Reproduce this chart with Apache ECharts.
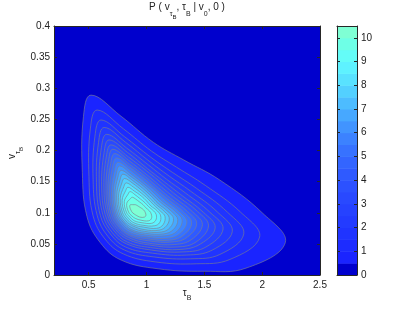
<!DOCTYPE html>
<html><head><meta charset="utf-8">
<script src="https://cdn.jsdelivr.net/npm/echarts@6/dist/echarts.min.js"></script>
<style>html,body{margin:0;padding:0;background:#fff}#c{width:415px;height:310px}</style>
</head><body><div id="c"></div>
<script>
// contour levels of P
const levels = [0.5,1,1.5,2,2.5,3,3.5,4,4.5,5,5.5,6,6.5,7,7.5,8,8.5,9,9.5,10];
const colorbarMax = 10.5;
// contour crossings read along 15 rays around the peak; one row per ray, one column per level
const rayTau = [
 [2.000,1.813,1.699,1.614,1.547,1.490,1.442,1.396,1.355,1.318,1.283,1.250,1.218,1.185,1.155,1.124,1.093,1.061,1.025,0.982],
 [2.200,1.978,1.841,1.742,1.662,1.594,1.536,1.483,1.434,1.390,1.349,1.308,1.270,1.233,1.196,1.160,1.122,1.084,1.041,0.990],
 [1.860,1.721,1.634,1.568,1.514,1.468,1.428,1.389,1.355,1.322,1.292,1.262,1.232,1.203,1.173,1.144,1.113,1.080,1.043,0.995],
 [1.500,1.429,1.382,1.346,1.316,1.290,1.266,1.244,1.222,1.203,1.184,1.164,1.146,1.127,1.108,1.088,1.067,1.043,1.017,0.982],
 [1.100,1.078,1.064,1.053,1.044,1.036,1.029,1.022,1.015,1.009,1.004,0.998,0.992,0.986,0.980,0.974,0.968,0.961,0.953,0.942],
 [0.780,0.798,0.810,0.819,0.827,0.833,0.839,0.845,0.850,0.855,0.860,0.865,0.870,0.875,0.880,0.885,0.890,0.896,0.902,0.911],
 [0.600,0.640,0.666,0.687,0.704,0.719,0.733,0.745,0.757,0.768,0.779,0.790,0.801,0.811,0.822,0.834,0.845,0.859,0.873,0.893],
 [0.485,0.538,0.573,0.600,0.622,0.642,0.660,0.676,0.692,0.707,0.721,0.735,0.749,0.763,0.778,0.793,0.809,0.826,0.845,0.871],
 [0.445,0.502,0.538,0.567,0.591,0.612,0.631,0.649,0.665,0.681,0.697,0.712,0.727,0.742,0.757,0.773,0.789,0.808,0.829,0.856],
 [0.455,0.515,0.554,0.585,0.610,0.633,0.653,0.672,0.690,0.706,0.722,0.739,0.754,0.771,0.787,0.804,0.821,0.841,0.863,0.893],
 [0.520,0.573,0.607,0.634,0.656,0.676,0.693,0.709,0.725,0.740,0.754,0.768,0.782,0.796,0.810,0.825,0.840,0.858,0.877,0.903],
 [0.780,0.799,0.811,0.820,0.828,0.835,0.841,0.847,0.853,0.858,0.863,0.868,0.873,0.878,0.883,0.888,0.893,0.900,0.906,0.916],
 [1.060,1.043,1.031,1.022,1.015,1.008,1.003,0.997,0.992,0.987,0.982,0.978,0.973,0.968,0.964,0.959,0.954,0.948,0.942,0.933],
 [1.320,1.261,1.223,1.195,1.172,1.152,1.135,1.119,1.104,1.090,1.077,1.064,1.052,1.039,1.026,1.014,1.000,0.987,0.970,0.950],
 [1.630,1.508,1.434,1.379,1.335,1.297,1.266,1.237,1.210,1.185,1.163,1.141,1.120,1.099,1.079,1.060,1.038,1.017,0.994,0.966]
];
const rayV = [
 [0.100,0.101,0.101,0.101,0.101,0.101,0.102,0.102,0.102,0.102,0.102,0.102,0.102,0.102,0.102,0.102,0.103,0.103,0.103,0.103],
 [0.052,0.061,0.066,0.070,0.074,0.076,0.079,0.081,0.083,0.084,0.086,0.088,0.089,0.091,0.092,0.094,0.095,0.097,0.098,0.100],
 [0.011,0.025,0.033,0.040,0.045,0.050,0.053,0.057,0.061,0.064,0.067,0.070,0.073,0.076,0.079,0.081,0.084,0.088,0.091,0.096],
 [0.006,0.018,0.026,0.032,0.037,0.041,0.045,0.049,0.053,0.056,0.059,0.063,0.066,0.069,0.072,0.075,0.079,0.083,0.087,0.093],
 [0.010,0.021,0.029,0.035,0.040,0.044,0.048,0.051,0.055,0.058,0.061,0.064,0.067,0.070,0.073,0.077,0.080,0.084,0.088,0.093],
 [0.024,0.034,0.040,0.045,0.050,0.053,0.057,0.060,0.063,0.065,0.068,0.071,0.073,0.076,0.079,0.081,0.084,0.087,0.091,0.096],
 [0.052,0.058,0.062,0.066,0.068,0.071,0.073,0.075,0.077,0.078,0.080,0.082,0.084,0.085,0.087,0.089,0.091,0.093,0.095,0.098],
 [0.094,0.095,0.096,0.096,0.097,0.097,0.098,0.098,0.098,0.099,0.099,0.099,0.099,0.100,0.100,0.100,0.101,0.101,0.101,0.102],
 [0.165,0.158,0.153,0.149,0.146,0.143,0.141,0.139,0.136,0.134,0.132,0.130,0.129,0.127,0.125,0.123,0.120,0.118,0.115,0.112],
 [0.255,0.236,0.223,0.213,0.205,0.197,0.191,0.185,0.179,0.174,0.168,0.163,0.158,0.153,0.148,0.142,0.136,0.130,0.123,0.113],
 [0.289,0.265,0.249,0.237,0.226,0.217,0.209,0.202,0.195,0.188,0.181,0.175,0.168,0.162,0.155,0.148,0.141,0.134,0.125,0.113],
 [0.255,0.235,0.222,0.213,0.204,0.197,0.190,0.184,0.178,0.173,0.168,0.162,0.157,0.152,0.147,0.141,0.135,0.129,0.122,0.112],
 [0.213,0.199,0.190,0.183,0.177,0.171,0.167,0.162,0.158,0.154,0.150,0.146,0.143,0.139,0.135,0.131,0.127,0.122,0.117,0.110],
 [0.185,0.173,0.165,0.159,0.154,0.150,0.147,0.143,0.140,0.137,0.135,0.132,0.129,0.127,0.124,0.122,0.119,0.116,0.113,0.108],
 [0.153,0.144,0.139,0.135,0.132,0.129,0.127,0.125,0.123,0.122,0.120,0.118,0.117,0.115,0.114,0.113,0.111,0.110,0.108,0.106]
];
const xTicks = [0.5,1,1.5,2,2.5];
const yTicks = [0,0.05,0.1,0.15,0.2,0.25,0.3,0.35,0.4];
const cbTicks = [0,1,2,3,4,5,6,7,8,9,10];

// colour for region >= level (index 0 = below first level)
const levelColors = ['#0000cd','#1a24ff','#1d2cff','#2034ff','#233bff','#2642ff','#2949ff','#2c51ff','#2f5aff','#3365ff',
  '#3772ff','#3c82ff','#4194ff','#47a8ff','#4dbcff','#53d0ff','#59e2ff','#5ef2ff','#64fcf8','#6effe6','#7fffd4'];

const contours = levels.map((L, k) => rayTau.map((row, d) => [row[k], rayV[d][k]]));
const bandLo = [0].concat(levels);
const bandHi = levels.concat([colorbarMax]);

const axisColor = '#262626';
const FONT = '"Liberation Sans", Arial, sans-serif';

const chart = echarts.init(document.getElementById('c'), null, {renderer: 'canvas'});

function boxAxis(extra) {
  return Object.assign({
    type: 'value',
    axisLine: {show: true, onZero: false, lineStyle: {color: axisColor, width: 1}},
    axisTick: {show: false},
    axisLabel: {show: false},
    splitLine: {show: false},
    z: 10
  }, extra);
}
const labelStyle = {color: '#222', fontSize: 10, fontFamily: FONT};

const option = {
  animation: false,
  backgroundColor: '#ffffff',
  grid: [
    {left: 54, right: 95, top: 26, bottom: 35, show: true, backgroundColor: levelColors[0], borderWidth: 0},
    {left: 337, width: 20, top: 26, bottom: 35, show: false}
  ],
  xAxis: [
    boxAxis({gridIndex: 0, min: 0.2, max: 2.5, position: 'bottom',
      axisTick: {show: true, inside: true, length: 3, customValues: xTicks, lineStyle: {color: axisColor}},
      axisLabel: Object.assign({show: true, margin: 5, customValues: xTicks, formatter: v => String(v)}, labelStyle)}),
    boxAxis({gridIndex: 0, min: 0.2, max: 2.5, position: 'top',
      axisTick: {show: true, inside: true, length: 3, customValues: xTicks, lineStyle: {color: axisColor}}}),
    boxAxis({gridIndex: 1, min: 0, max: 1, position: 'bottom'}),
    boxAxis({gridIndex: 1, min: 0, max: 1, position: 'top'})
  ],
  yAxis: [
    boxAxis({gridIndex: 0, min: 0, max: 0.4, position: 'left',
      axisTick: {show: true, inside: true, length: 3, customValues: yTicks, lineStyle: {color: axisColor}},
      axisLabel: Object.assign({show: true, margin: 4, customValues: yTicks, formatter: v => String(v)}, labelStyle)}),
    boxAxis({gridIndex: 0, min: 0, max: 0.4, position: 'right',
      axisTick: {show: true, inside: true, length: 3, customValues: yTicks, lineStyle: {color: axisColor}}}),
    boxAxis({gridIndex: 1, min: 0, max: colorbarMax, position: 'right',
      axisTick: {show: true, inside: true, length: 3, customValues: cbTicks, lineStyle: {color: axisColor}},
      axisLabel: Object.assign({show: true, margin: 4, customValues: cbTicks, formatter: v => String(v)}, labelStyle)}),
    boxAxis({gridIndex: 1, min: 0, max: colorbarMax, position: 'left',
      axisTick: {show: true, inside: true, length: 3, customValues: cbTicks, lineStyle: {color: axisColor}}})
  ],
  series: [
    {
      type: 'custom',
      xAxisIndex: 0, yAxisIndex: 0,
      clip: true,
      data: levels.map((L, k) => [contours[k][0][0], contours[k][0][1], L]),
      encode: {x: 0, y: 1},
      renderItem: function (params, api) {
        const k = params.dataIndex;
        const pts = contours[k].map(p => api.coord(p));
        return {
          type: 'polygon',
          z2: k,
          shape: {points: pts, smooth: 0.4},
          style: {fill: levelColors[k + 1], stroke: 'rgba(125,128,140,0.9)', lineWidth: 0.7}
        };
      }
    },
    {
      type: 'custom',
      xAxisIndex: 2, yAxisIndex: 2,
      data: bandLo.map((lo, i) => [0, lo, bandHi[i]]),
      encode: {x: 0, y: 1},
      renderItem: function (params, api) {
        const i = params.dataIndex;
        const p1 = api.coord([0, bandHi[i]]);
        const p2 = api.coord([1, bandLo[i]]);
        return {
          type: 'rect',
          shape: {x: p1[0], y: p1[1], width: p2[0] - p1[0], height: p2[1] - p1[1] + 0.5},
          style: {fill: levelColors[i]}
        };
      }
    }
  ],
  graphic: [
    {
      type: 'text', x: 187, y: 2, z: 20,
      style: {
        text: '{a|P ( v}{s|τ}{ss|B}{a|, τ}{s|B}{a| | v}{s|0}{a|, 0 )}',
        align: 'center', verticalAlign: 'top', fill: '#222',
        rich: {
          a: {fontSize: 10, fontFamily: FONT, lineHeight: 12, verticalAlign: 'top', fill: '#222'},
          s: {fontSize: 7, fontFamily: FONT, lineHeight: 8, padding: [9, 0, 0, 0], verticalAlign: 'top', fill: '#222'},
          ss: {fontSize: 6, fontFamily: FONT, lineHeight: 7, padding: [12, 0, 0, 0], verticalAlign: 'top', fill: '#222'}
        }
      }
    },
    {
      type: 'text', x: 13, y: 153, rotation: Math.PI / 2, z: 20,
      style: {
        text: '{a|v}{s|τ}{ss|B}',
        align: 'center', verticalAlign: 'middle', fill: '#222',
        rich: {
          a: {fontSize: 10, fontFamily: FONT, lineHeight: 12, verticalAlign: 'top', fill: '#222'},
          s: {fontSize: 7, fontFamily: FONT, lineHeight: 8, padding: [8, 0, 0, 0], verticalAlign: 'top', fill: '#222'},
          ss: {fontSize: 6, fontFamily: FONT, lineHeight: 7, padding: [11, 0, 0, 0], verticalAlign: 'top', fill: '#222'}
        }
      }
    },
    {
      type: 'text', x: 187, y: 288, z: 20,
      style: {
        text: '{a|τ}{s|B}',
        align: 'center', verticalAlign: 'top', fill: '#222',
        rich: {
          a: {fontSize: 10, fontFamily: FONT, lineHeight: 12, verticalAlign: 'top', fill: '#222'},
          s: {fontSize: 7, fontFamily: FONT, lineHeight: 8, padding: [7, 0, 0, 0], verticalAlign: 'top', fill: '#222'}
        }
      }
    }
  ]
};
chart.setOption(option);
</script>
</body></html>
